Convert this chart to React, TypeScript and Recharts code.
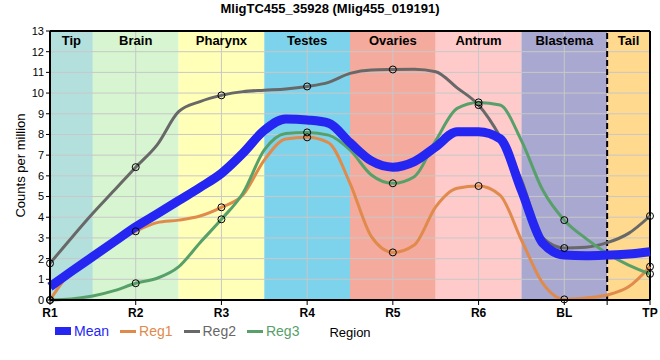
import React from 'react';
import { LineChart, Line, XAxis, YAxis, ReferenceArea, ReferenceLine, Legend } from 'recharts';

const TITLE = 'MligTC455_35928 (Mlig455_019191)';
const CATEGORIES = ['R1', 'R2', 'R3', 'R4', 'R5', 'R6', 'BL', 'TP'];
// sample positions, in category units (R1 = 0 ... TP = 7)
const POSITIONS = [
  0, 0.25, 0.5, 0.75, 1, 1.25, 1.5, 1.75, 2, 2.25, 2.5, 2.75, 3, 3.25, 3.5,
  3.75, 4, 4.25, 4.5, 4.75, 5, 5.25, 5.5, 5.75, 6, 6.25, 6.5, 6.75, 7,
];
const MEAN = [
  0.64, 1.38, 2.1, 2.82, 3.54, 4.16, 4.8, 5.44, 6.12, 7.09, 8.2, 8.75, 8.7, 8.55, 7.6,
  6.72, 6.42, 6.69, 7.4, 8.13, 8.13, 7.8, 5.3, 2.74, 2.17, 2.14, 2.17, 2.22, 2.33,
];
const REG1 = [
  0, 1.4, 2.2, 2.75, 3.32, 3.74, 3.86, 4.06, 4.48, 5.07, 6.76, 7.78, 7.86, 7.6, 5.64,
  3.06, 2.3, 2.66, 4.5, 5.4, 5.51, 5.07, 2.9, 0.8, 0.03, 0.1, 0.24, 0.64, 1.61,
];
const REG2 = [
  1.77, 3.0, 4.19, 5.3, 6.42, 7.5, 9.1, 9.59, 9.89, 10.07, 10.14, 10.2, 10.32, 10.52, 10.95,
  11.12, 11.14, 11.15, 11.03, 10.25, 9.42, 7.9, 5.8, 3.0, 2.51, 2.55, 2.77, 3.22, 4.06,
];
const REG3 = [
  0, 0.05, 0.19, 0.45, 0.81, 1.05, 1.6, 2.77, 3.9, 5.16, 7.25, 8.05, 8.1, 7.97, 7.25,
  6.04, 5.64, 5.96, 7.7, 9.26, 9.55, 9.42, 7.7, 5.3, 3.86, 2.98, 2.25, 1.69, 1.26,
];

const REGIONS = ['Tip', 'Brain', 'Pharynx', 'Testes', 'Ovaries', 'Antrum', 'Blastema', 'Tail'];
const REGION_COLORS = ['#b3e0dc', '#d6f5d0', '#ffffb8', '#7dd3eb', '#f4aa9c', '#fecaca', '#a8a8d0', '#fed98e'];
const Y_TICKS = [0, 1, 2, 3, 4, 5, 6, 7, 8, 9, 10, 11, 12, 13];
const X_TICKS = [0, 1, 2, 3, 4, 5, 6, 6.5, 7];

const SERIES = [
  { key: 'mean', name: 'Mean', color: '#2626f2', width: 9, icon: 'rect', dots: false },
  { key: 'reg1', name: 'Reg1', color: '#e08a4c', width: 3, icon: 'line', dots: true },
  { key: 'reg2', name: 'Reg2', color: '#686868', width: 3, icon: 'line', dots: true },
  { key: 'reg3', name: 'Reg3', color: '#58a06a', width: 3, icon: 'line', dots: true },
];

const data = POSITIONS.map((x, i) => ({ x, mean: MEAN[i], reg1: REG1[i], reg2: REG2[i], reg3: REG3[i] }));

const FONT = 'Arial, "Liberation Sans", sans-serif';

const renderDot = (props: any) => {
  const { cx, cy, payload, index } = props;
  if (!payload || !Number.isInteger(payload.x)) return <g key={`e${index}`} />;
  return <circle key={`d${index}`} cx={cx} cy={cy} r={3.5} fill="none" stroke="#000" strokeWidth={1} />;
};

const renderLegend = () => (
  <div style={{ display: 'flex', alignItems: 'center', fontFamily: FONT, fontSize: 14 }}>
    {SERIES.map((s) => (
      <div key={s.key} style={{ display: 'flex', alignItems: 'center', marginRight: 11 }}>
        <div style={{ width: 16, height: s.icon === 'rect' ? 8 : 3, background: s.color, marginRight: 3 }} />
        <span style={{ color: s.color }}>{s.name}</span>
      </div>
    ))}
  </div>
);

export default function App() {
  const drawOrder = [SERIES[1], SERIES[2], SERIES[3], SERIES[0]];
  return (
    <div style={{ position: 'absolute', left: 0, top: 0, width: 660, height: 360, background: '#fff' }}>
      <div style={{ position: 'absolute', left: 0, top: 1, width: 660, textAlign: 'center', fontFamily: FONT, fontWeight: 'bold', fontSize: 13, lineHeight: '15px' }}>
        {TITLE}
      </div>
      <LineChart width={660} height={360} data={data} margin={{ top: 31, right: 10, left: 0, bottom: 0 }}>
        {REGIONS.map((r, i) => (
          <ReferenceArea
            key={r}
            x1={Math.max(0, i - 0.5)}
            x2={Math.min(7, i + 0.5)}
            y1={0}
            y2={13}
            fill={REGION_COLORS[i]}
            fillOpacity={1}
            stroke="none"
            label={{ value: r, position: 'insideTop', offset: 5, fill: '#000', fontSize: 13, fontWeight: 'bold', fontFamily: FONT }}
          />
        ))}
        {Y_TICKS.slice(1, -1).map((y) => (
          <ReferenceLine key={`gy${y}`} y={y} stroke="#c8c8c8" strokeWidth={1} />
        ))}
        {[1, 2, 3, 4, 5, 6].map((x) => (
          <ReferenceLine key={`gx${x}`} x={x} stroke="#c8c8c8" strokeWidth={1} />
        ))}
        <ReferenceLine x={6.5} stroke="#000" strokeWidth={2} strokeDasharray="6 3" />
        <ReferenceLine y={13} stroke="#000" strokeWidth={2} />
        <ReferenceLine x={7} stroke="#000" strokeWidth={2} />
        <XAxis
          dataKey="x"
          type="number"
          domain={[0, 7]}
          ticks={X_TICKS}
          interval={0}
          tickFormatter={(v: number) => (Number.isInteger(v) ? CATEGORIES[v] : '')}
          height={60}
          axisLine={{ stroke: '#000', strokeWidth: 2 }}
          tickLine={{ stroke: '#000' }}
          tickSize={5}
          tickMargin={3}
          tick={{ fill: '#000', fontSize: 12, fontWeight: 'bold', fontFamily: FONT }}
          label={{ value: 'Region', position: 'insideBottom', offset: 23, fill: '#000', fontSize: 13, fontFamily: FONT }}
        />
        <YAxis
          type="number"
          domain={[0, 13]}
          ticks={Y_TICKS}
          interval={0}
          width={50}
          axisLine={{ stroke: '#000', strokeWidth: 2 }}
          tickLine={{ stroke: '#000' }}
          tickSize={4}
          tickMargin={2}
          tick={{ fill: '#000', fontSize: 11, fontFamily: FONT }}
          label={{ value: 'Counts per million', angle: -90, position: 'insideLeft', offset: 20, style: { textAnchor: 'middle' }, fill: '#000', fontSize: 13, fontFamily: FONT }}
        />
        {drawOrder.map((s) => (
          <Line
            key={s.key}
            type="monotone"
            dataKey={s.key}
            name={s.name}
            stroke={s.color}
            strokeWidth={s.width}
            dot={s.dots ? renderDot : false}
            activeDot={false}
            isAnimationActive={false}
          />
        ))}
        <Legend
          layout="horizontal"
          verticalAlign="middle"
          align="center"
          content={renderLegend}
          wrapperStyle={{ position: 'absolute', left: 55, top: 323, width: 280, height: 18 }}
        />
      </LineChart>
    </div>
  );
}
